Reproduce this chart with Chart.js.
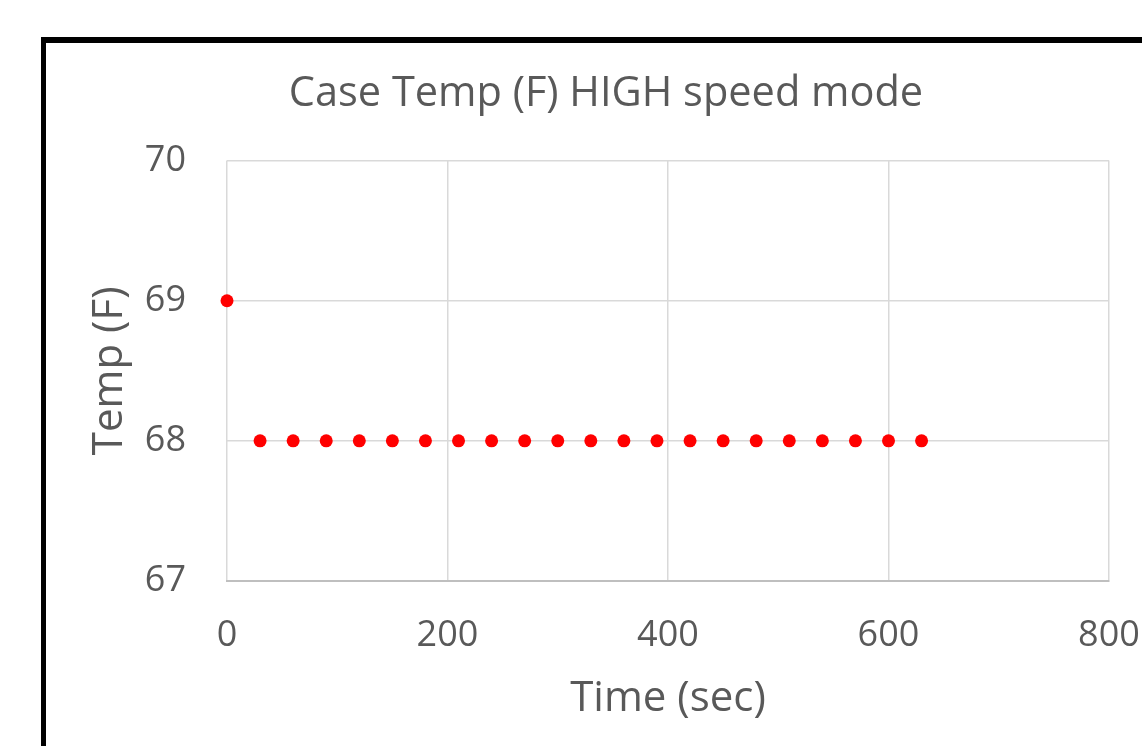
<!DOCTYPE html>
<html>
<head>
<meta charset="utf-8">
<script src="https://cdn.jsdelivr.net/npm/chart.js@4"></script>
<style>
  html, body { margin: 0; padding: 0; background: #fff; overflow: hidden; }
  #wrap { position: relative; width: 1142px; height: 746px; }
  #frame {
    position: absolute; left: 41px; top: 37px; width: 1200px; height: 800px;
    border-top: 6px solid #000; border-left: 5px solid #000; pointer-events: none;
  }
</style>
</head>
<body>
<div id="wrap">
  <canvas id="caseTempChart" width="1142" height="746"></canvas>
  <div id="frame"></div>
</div>
<script>
// Thời gian (giây) và nhiệt độ vỏ (F)
const timeSec = [0, 30, 60, 90, 120, 150, 180, 210, 240, 270, 300, 330, 360, 390, 420, 450, 480, 510, 540, 570, 600, 630];
const tempF = [69, 68, 68, 68, 68, 68, 68, 68, 68, 68, 68, 68, 68, 68, 68, 68, 68, 68, 68, 68, 68, 68];
const xTicks = [0, 200, 400, 600, 800];
const yTicks = [67, 68, 69, 70];

const textColor = '#595959';
const gridColor = '#d9d9d9';
const fontFamily = '"Open Sans", sans-serif';

document.addEventListener("DOMContentLoaded", function () {
    const points = timeSec.map((t, i) => ({ x: t, y: tempF[i] }));
    const ctx = document.getElementById('caseTempChart').getContext('2d');

    new Chart(ctx, {
        type: 'scatter',
        data: {
            datasets: [{
                label: 'Case Temp (F)',
                data: points,
                backgroundColor: '#ff0000',
                borderColor: '#ff0000',
                borderWidth: 0,
                pointRadius: 6.5,
                pointHoverRadius: 6.5,
                clip: false
            }]
        },
        options: {
            responsive: false,
            animation: false,
            layout: { padding: { left: 70, right: 0, top: 0, bottom: 0 } },
            scales: {
                x: {
                    type: 'linear',
                    min: xTicks[0],
                    max: xTicks[xTicks.length - 1],
                    afterBuildTicks: scale => { scale.ticks = xTicks.map(v => ({ value: v })); },
                    afterFit: scale => {
                        scale.height = 165;
                        scale.paddingLeft = 0;
                        scale.paddingRight = 33;
                    },
                    grid: { color: gridColor, lineWidth: 1.5, drawTicks: false },
                    border: { color: '#bfbfbf', width: 2 },
                    ticks: { color: textColor, padding: 33, font: { family: fontFamily, size: 36 } },
                    title: {
                        display: true,
                        text: 'Time (sec)',
                        color: textColor,
                        padding: { top: 0, bottom: 22 },
                        font: { family: fontFamily, size: 42 }
                    }
                },
                y: {
                    type: 'linear',
                    min: yTicks[0],
                    max: yTicks[yTicks.length - 1],
                    afterBuildTicks: scale => { scale.ticks = yTicks.map(v => ({ value: v })); },
                    afterFit: scale => { scale.width = 157; },
                    grid: { color: gridColor, lineWidth: 1.5, drawTicks: false },
                    border: { display: false },
                    ticks: { color: textColor, padding: 41, font: { family: fontFamily, size: 36 } },
                    title: {
                        display: true,
                        text: 'Temp (F)',
                        color: textColor,
                        padding: { top: 15, bottom: 0 },
                        font: { family: fontFamily, size: 42 }
                    }
                }
            },
            plugins: {
                legend: { display: false },
                tooltip: { enabled: false },
                title: {
                    display: true,
                    text: 'Case Temp (F) HIGH speed mode',
                    color: textColor,
                    padding: { top: 69, bottom: 41.8 },
                    font: { family: fontFamily, size: 41.5, weight: 'normal' }
                }
            }
        }
    });
});
</script>
</body>
</html>
